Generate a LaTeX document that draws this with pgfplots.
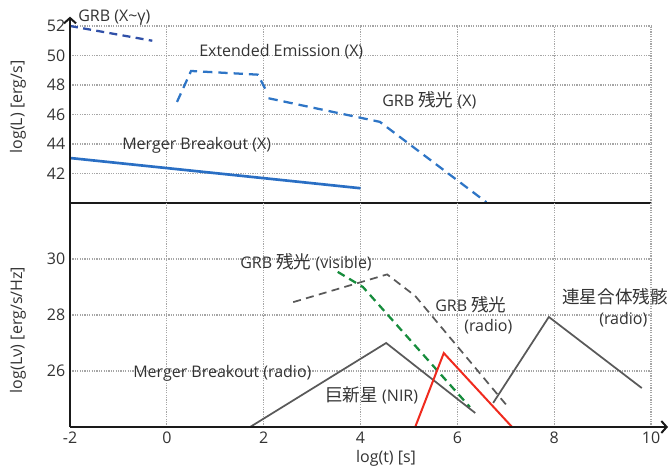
\documentclass[border=0pt]{standalone}
\usepackage{fontspec}
\setmainfont{Open Sans}
\newfontfamily\jp[Scale=1.1]{Noto Sans CJK JP}
\usepackage{pgfplots}
\pgfplotsset{compat=1.18}
\usetikzlibrary{arrows.meta}

\definecolor{axisblack}{HTML}{1A1A1A}
\definecolor{gridgray}{HTML}{A6A6A6}
\definecolor{txt}{HTML}{333333}
\definecolor{navyblue}{HTML}{3050A8}
\definecolor{midblue}{HTML}{2E75C6}
\definecolor{solidblue}{HTML}{2A6FC4}
\definecolor{darkgray}{HTML}{595959}
\definecolor{nirred}{HTML}{F02A1E}
\definecolor{visgreen}{HTML}{168C3C}

\pgfplotsset{
  panel/.style={
    scale only axis, width=435.75pt, xmin=-2, xmax=10,
    axis line style={draw=none},
    xmajorgrids=true, ymajorgrids=true,
    major grid style={draw=gridgray, line width=0.9pt, dash pattern=on 0.9pt off 0.9pt},
    major tick length=0pt,
    tick label style={font=\fontsize{12}{14}\selectfont, text=txt},
    /pgf/number format/assume math mode=true,
    clip=false,
  },
  bluedash/.style={midblue, line width=1.7pt, dash pattern=on 7pt off 4.5pt},
  graydash/.style={darkgray, line width=1.3pt, dash pattern=on 6pt off 4pt},
}

\begin{document}
\begin{tikzpicture}
\useasboundingbox (0,0) rectangle (504pt,352.5pt);

% upper panel: X-ray / gamma-ray luminosity
\begin{axis}[panel, at={(52.5pt,200.25pt)}, anchor=south west,
  height=132.75pt, ymin=40, ymax=52, ytick={42,44,...,52},
  xtick={0,2,...,10}, xticklabels={}]
  \addplot[navyblue, line width=1.7pt, dash pattern=on 6pt off 4pt]
    coordinates {(-2,52) (-0.3,51)};
  \addplot[bluedash] coordinates {(0.21,46.85) (0.5,48.95) (1.88,48.7) (2.03,47.75)};
  \addplot[bluedash] coordinates {(2.1,47.1) (4.4,45.5) (6.6,40.05)};
  \addplot[solidblue, line width=2pt] coordinates {(-2,43.05) (4,41.0)};
  \draw[axisblack, line width=1.5pt] (axis cs:-2,40) -- (axis cs:10,40);
  \draw[axisblack, line width=1.5pt, -{Straight Barb[length=4pt,width=9pt]}]
    (axis cs:-2,40) -- ([yshift=7pt]axis cs:-2,52);
\end{axis}

% lower panel: spectral luminosity
\begin{axis}[panel, at={(52.5pt,32.25pt)}, anchor=south west,
  height=168pt, ymin=24, ymax=32, ytick={26,28,30},
  xtick={-2,0,...,10}]
  \addplot[visgreen, line width=1.7pt, dash pattern=on 6pt off 4pt]
    coordinates {(3.53,29.54) (4.05,29.0) (6.26,24.71)};
  \addplot[graydash] coordinates {(2.61,28.46) (4.55,29.45) (5.13,28.68) (7.03,24.75)};
  \addplot[darkgray, line width=1.3pt] coordinates {(1.72,24) (4.53,27.0) (6.37,24.5)};
  \addplot[nirred, line width=1.5pt] coordinates {(5.13,24) (5.72,26.64) (7.13,24)};
  \addplot[darkgray, line width=1.3pt] coordinates {(6.74,24.86) (7.89,27.93) (9.81,25.39)};
  \draw[axisblack, line width=1.5pt] (axis cs:-2,24) -- (axis cs:-2,32);
  \draw[axisblack, line width=1.5pt, -{Straight Barb[length=4pt,width=9pt]}]
    (axis cs:-2,24) -- ([xshift=12.75pt]axis cs:10,24);
\end{axis}

% labels
\begin{scope}[x=0.75pt, y=-0.75pt, yshift=352.5pt,
  every node/.style={font=\fontsize{12}{14}\selectfont, text=txt, inner sep=0pt}]
  \node[rotate=90] at (18,107) {log(L) [erg/s]};
  \node[rotate=90] at (18,330) {log(Lν) [erg/s/Hz]};
  \node at (386,458) {log(t) [s]};
  \node[anchor=west] at (78,18) {GRB (X\textasciitilde γ)};
  \node[anchor=west] at (199,52) {Extended Emission (X)};
  \node[anchor=west] at (382,100) {GRB {\jp 残光} (X)};
  \node[anchor=west] at (122,145) {Merger Breakout (X)};
  \node[anchor=west] at (240,262) {GRB {\jp 残光} (visible)};
  \node[anchor=west] at (435,305) {GRB {\jp 残光}};
  \node[anchor=west] at (464,327) {(radio)};
  \node[anchor=west] at (562,297) {\jp 連星合体残骸};
  \node[anchor=west] at (599,320) {(radio)};
  \node[anchor=west] at (133,373) {Merger Breakout (radio)};
  \node[anchor=west] at (325,395) {{\jp 巨新星} (NIR)};
\end{scope}
\end{tikzpicture}
\end{document}
